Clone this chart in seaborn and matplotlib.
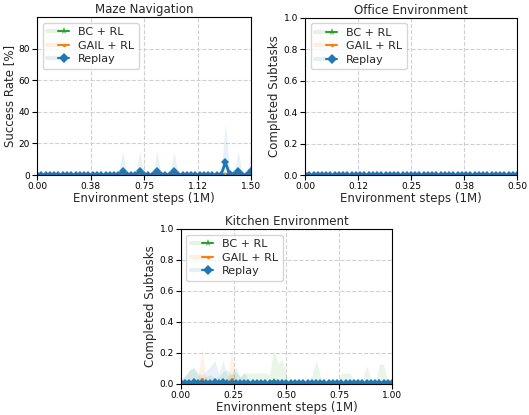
import numpy as np
import matplotlib
matplotlib.use("Agg")
import matplotlib.pyplot as plt
from matplotlib.lines import Line2D
from matplotlib.legend_handler import HandlerTuple
import seaborn as sns

# ---------------- data ----------------
methods = ["BC + RL", "GAIL + RL", "Replay"]
colors = {"BC + RL": "#2ca02c", "GAIL + RL": "#ff7f0e", "Replay": "#1f77b4"}
markers = {"BC + RL": "*", "GAIL + RL": ".", "Replay": "D"}

# Maze navigation: 51 evaluation points over 0..1.5M steps
maze_x = np.linspace(0.0, 1.5, 51)
maze_bc_mean = [0.0] * 51
maze_bc_std = [0.0] * 51
maze_gail_mean = [0.0] * 44 + [0.4] + [0.0] * 6
maze_gail_std = [0.0] * 51
maze_replay_mean = ([0.0] * 20 + [2.5, 0, 0, 0, 2.5, 0, 0, 0, 2.5, 0, 0, 0, 2.5]
                    + [0.0] * 11 + [8.0, 0.5, 0, 2.5, 0, 0, 2.5])
maze_replay_std = ([0.0] * 20 + [12.5, 0, 0, 0, 12.5, 0, 0, 0, 12.5, 0, 0, 0, 12.5]
                   + [0.0] * 11 + [25.0, 2.0, 0, 12.5, 0, 0, 12.5])

# Office environment: 51 points over 0..0.5M steps
office_x = np.linspace(0.0, 0.5, 51)
office_bc_mean = [0.0] * 51
office_gail_mean = [0.0] * 51
office_replay_mean = [0.0] * 51
office_std = [0.0] * 51

# Kitchen environment: 51 points over 0..1.0M steps
kitchen_x = np.linspace(0.0, 1.0, 51)
kitchen_bc_mean = ([0.0] * 22 + [0.02, 0.005, 0.01] + [0.0] * 7 + [0.01, 0.005]
                   + [0.0] * 10 + [0.008, 0.0, 0.0, 0.01, 0.008, 0.0, 0.0])
kitchen_bc_std = [0.03, 0.05, 0.09, 0.1, 0.06, 0.04, 0.05, 0.06, 0.04, 0.05,
                  0.08, 0.09, 0.06, 0.08, 0.05, 0.07, 0.07, 0.07, 0.07, 0.07,
                  0.07, 0.06, 0.2, 0.13, 0.15, 0.06, 0.0, 0.0, 0.0, 0.0,
                  0.02, 0.05, 0.14, 0.05, 0.0, 0.0, 0.0, 0.0, 0.07, 0.07,
                  0.07, 0.03, 0.04, 0.03, 0.11, 0.03, 0.0, 0.12, 0.12, 0.02, 0.0]
kitchen_gail_mean = [0.0] * 5 + [0.03] + [0.0] * 6 + [0.03] + [0.0] * 38
kitchen_gail_std = [0.0] * 4 + [0.03, 0.2, 0.02] + [0.0] * 4 + [0.03, 0.2, 0.02] + [0.0] * 37
kitchen_replay_mean = [0.004, 0.005, 0.004, 0.01, 0.005, 0.008, 0.005, 0.004, 0.01, 0.005,
                       0.01, 0.004, 0.008, 0.005, 0.004, 0.006] + [0.004] * 35
kitchen_replay_std = [0.02, 0.05, 0.08, 0.1, 0.07, 0.05, 0.08, 0.11, 0.14, 0.06,
                      0.14, 0.05, 0.06, 0.1, 0.04, 0.07, 0.02] + [0.01] * 34

panels = [
    dict(title="Maze Navigation", ylabel="Success Rate [%]", x=maze_x,
         means=[maze_bc_mean, maze_gail_mean, maze_replay_mean],
         stds=[maze_bc_std, maze_gail_std, maze_replay_std],
         xlim=(0, 1.5), xticks=[0, 0.375, 0.75, 1.125, 1.5],
         xticklabels=["0.00", "0.38", "0.75", "1.12", "1.50"],
         ylim=(0, 100), yticks=[0, 20, 40, 60, 80], yticklabels=["0", "20", "40", "60", "80"],
         pos=[0.070, 0.5783, 0.4045, 0.3807]),
    dict(title="Office Environment", ylabel="Completed Subtasks", x=office_x,
         means=[office_bc_mean, office_gail_mean, office_replay_mean],
         stds=[office_std, office_std, office_std],
         xlim=(0, 0.5), xticks=[0, 0.125, 0.25, 0.375, 0.5],
         xticklabels=["0.00", "0.12", "0.25", "0.38", "0.50"],
         ylim=(0, 1.0), yticks=[0, 0.2, 0.4, 0.6, 0.8, 1.0],
         yticklabels=["0.0", "0.2", "0.4", "0.6", "0.8", "1.0"],
         pos=[0.5766, 0.5783, 0.4007, 0.3790]),
    dict(title="Kitchen Environment", ylabel="Completed Subtasks", x=kitchen_x,
         means=[kitchen_bc_mean, kitchen_gail_mean, kitchen_replay_mean],
         stds=[kitchen_bc_std, kitchen_gail_std, kitchen_replay_std],
         xlim=(0, 1.0), xticks=[0, 0.25, 0.5, 0.75, 1.0],
         xticklabels=["0.00", "0.25", "0.50", "0.75", "1.00"],
         ylim=(0, 1.0), yticks=[0, 0.2, 0.4, 0.6, 0.8, 1.0],
         yticklabels=["0.0", "0.2", "0.4", "0.6", "0.8", "1.0"],
         pos=[0.342, 0.0747, 0.399, 0.3735]),
]

# ---------------- style ----------------
sns.set_style("ticks", {"axes.grid": True, "grid.linestyle": "--", "grid.color": "0.82",
                        "axes.edgecolor": "black", "xtick.color": "black", "ytick.color": "black"})
plt.rcParams["font.family"] = ["DejaVu Sans"]
plt.rcParams.update({
    "xtick.direction": "out", "ytick.direction": "out",
    "xtick.major.size": 3.5, "ytick.major.size": 3.5,
    "xtick.major.width": 0.8, "ytick.major.width": 0.8,
    "axes.linewidth": 0.8, "grid.linewidth": 0.8,
})

fig = plt.figure(figsize=(5.29, 4.15), dpi=100)

msizes = {"BC + RL": 5.0, "GAIL + RL": 4.5, "Replay": 4.5}

for p in panels:
    ax = fig.add_axes(p["pos"])
    x = p["x"]
    for m, mean, std in zip(methods, p["means"], p["stds"]):
        mean = np.asarray(mean, dtype=float)
        std = np.asarray(std, dtype=float)
        ax.fill_between(x, mean - std, mean + std, color=colors[m], alpha=0.1, lw=0)
        sns.lineplot(x=x, y=mean, ax=ax, color=colors[m], marker=markers[m],
                     markersize=msizes[m], markeredgewidth=0,
                     linewidth=2.0 if m == "Replay" else 1.5, legend=False)
    ax.set_xlim(*p["xlim"])
    ax.set_ylim(*p["ylim"])
    ax.set_xticks(p["xticks"])
    ax.set_xticklabels(p["xticklabels"])
    ax.set_yticks(p["yticks"])
    ax.set_yticklabels(p["yticklabels"])
    ax.tick_params(labelsize=6.5, pad=1.5)
    ax.set_title(p["title"], fontsize=8.5, pad=3)
    ax.set_xlabel("Environment steps (1M)", fontsize=8.5, labelpad=1)
    ax.set_ylabel(p["ylabel"], fontsize=8.5, labelpad=2)
    for s in ax.spines.values():
        s.set_visible(True)
        s.set_color("black")
    handles = []
    for m in methods:
        band = Line2D([], [], color=colors[m], lw=3.0, alpha=0.12)
        line = Line2D([], [], color=colors[m], lw=1.5, marker=markers[m],
                      markersize=msizes[m] + 0.5, markeredgewidth=0)
        handles.append((band, line))
    ax.legend(handles, methods, loc="upper left", fontsize=8.0,
              handler_map={tuple: HandlerTuple(ndivide=None, pad=0)},
              frameon=True, fancybox=True, framealpha=0.8, edgecolor="0.8",
              borderpad=0.4, labelspacing=0.33, handlelength=2.0)

fig.savefig("out.png", dpi=100)
